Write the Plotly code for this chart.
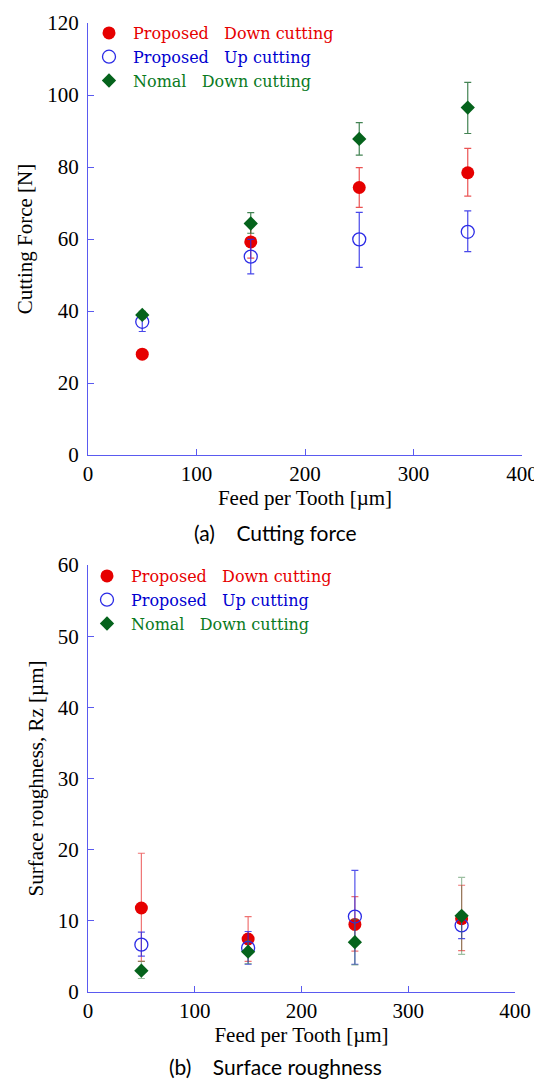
import plotly.graph_objects as go

feed = [50, 150, 250, 350]
x_ticks = [0, 100, 200, 300, 400]

# (a) Cutting force [N]
force_down = [28.0, 59.2, 74.3, 78.4]
force_down_ep = [0.8, 4.5, 5.5, 6.8]
force_down_em = [0.8, 4.5, 5.5, 6.5]
force_up = [37.0, 55.1, 59.9, 62.0]
force_up_ep = [2.5, 4.8, 7.5, 5.8]
force_up_em = [2.7, 4.8, 7.8, 5.5]
force_nomal = [38.9, 64.3, 87.8, 96.5]
force_nomal_ep = [1.0, 3.0, 4.5, 7.0]
force_nomal_em = [1.0, 2.7, 4.5, 7.2]

# (b) Surface roughness Rz [um]
rz_down = [11.8, 7.45, 9.5, 10.3]
rz_down_ep = [7.7, 3.15, 3.9, 4.7]
rz_down_em = [7.5, 3.15, 3.75, 4.5]
rz_up = [6.65, 6.2, 10.6, 9.35]
rz_up_ep = [1.75, 2.3, 6.5, 1.85]
rz_up_em = [1.6, 2.3, 6.7, 1.85]
rz_nomal = [3.0, 5.67, 7.0, 10.7]
rz_nomal_ep = [1.3, 1.6, 3.2, 5.4]
rz_nomal_em = [1.1, 1.67, 3.2, 5.4]

names = ["Proposed\u00a0\u00a0\u00a0Down cutting",
         "Proposed\u00a0\u00a0\u00a0Up cutting",
         "Nomal\u00a0\u00a0\u00a0Down cutting"]

RED = "#e60000"
BLUE = "#2b2be6"
GREEN = "#05631c"
TXT_RED = "#e60000"
TXT_BLUE = "#0000d0"
TXT_GREEN = "#0a7a1e"
AXC = "#5a5af0"
SERIF = "Liberation Serif"
LEGFONT = "DejaVu Serif"

fig = go.Figure()

def add_series(y, ep, em, color, txtcolor, name, symbol, size, xa, ya, legend, ebcolor, filled=True):
    marker = dict(symbol=symbol, size=size, color=color,
                  line=dict(color=color, width=1.3 if not filled else 0))
    fig.add_trace(go.Scatter(
        x=feed, y=y, mode="markers", xaxis=xa, yaxis=ya, legend=legend,
        name=f"<span style='color:{txtcolor}'>{name}</span>",
        marker=marker,
        error_y=dict(type="data", symmetric=False, array=ep, arrayminus=em,
                     color=ebcolor, thickness=1.2, width=3.5),
    ))

add_series(force_down, force_down_ep, force_down_em, RED, TXT_RED, names[0], "circle", 13, "x", "y", "legend", "rgba(230,40,40,0.8)")
add_series(force_up, force_up_ep, force_up_em, BLUE, TXT_BLUE, names[1], "circle-open", 13, "x", "y", "legend", "rgba(40,40,230,0.85)", filled=False)
add_series(force_nomal, force_nomal_ep, force_nomal_em, GREEN, TXT_GREEN, names[2], "diamond", 11, "x", "y", "legend", "rgba(20,100,40,0.8)")

add_series(rz_down, rz_down_ep, rz_down_em, RED, TXT_RED, names[0], "circle", 13, "x2", "y2", "legend2", "rgba(230,40,40,0.65)")
add_series(rz_up, rz_up_ep, rz_up_em, BLUE, TXT_BLUE, names[1], "circle-open", 13, "x2", "y2", "legend2", "rgba(40,40,230,0.8)", filled=False)
add_series(rz_nomal, rz_nomal_ep, rz_nomal_em, GREEN, TXT_GREEN, names[2], "diamond", 11, "x2", "y2", "legend2", "rgba(60,130,70,0.5)")

# page body adds an 8px margin; work in screen pixels and convert
OFF = 8
W, H = 542 - OFF, 1082 - OFF

def px(p):
    return (p - OFF) / W

def py(p):
    return 1 - (p - OFF) / H

def xd(a, b):
    return [px(a), px(b)]

def yd(top, bottom):
    return [py(bottom), py(top)]

axis_common = dict(showline=True, linecolor=AXC, linewidth=1, ticks="inside", ticklen=6,
                   tickcolor=AXC, tickwidth=1, showgrid=False, zeroline=False, automargin=False,
                   tickfont=dict(family=SERIF, size=21, color="black"), mirror=False)
tfont = dict(family=SERIF, size=21, color="black")

fig.update_layout(
    width=W, height=H, margin=dict(l=0, r=0, t=0, b=0, autoexpand=False),
    paper_bgcolor="white", plot_bgcolor="white",
    showlegend=True,
    xaxis=dict(domain=xd(88, 522), range=[0, 400], tickvals=x_ticks, anchor="y",
               title=dict(text="Feed per Tooth [µm]", font=tfont, standoff=2),
               **axis_common),
    yaxis=dict(domain=yd(23, 455), range=[0, 120], dtick=20, anchor="x",
               title=dict(text="Cutting Force [N]", font=tfont, standoff=8),
               ticklabelstandoff=4, **axis_common),
    xaxis2=dict(domain=xd(88, 515), range=[0, 400], tickvals=x_ticks, anchor="y2",
                title=dict(text="Feed per Tooth [µm]", font=tfont, standoff=2),
                **axis_common),
    yaxis2=dict(domain=yd(565, 992), range=[0, 60], dtick=10, anchor="x2",
                title=dict(text="Surface roughness, Rz [µm]", font=tfont, standoff=8),
                ticklabelstandoff=4, **axis_common),
    legend=dict(x=px(85), y=py(16), xanchor="left", yanchor="top",
                font=dict(family=LEGFONT, size=16), bgcolor="rgba(0,0,0,0)",
                tracegroupgap=0, itemwidth=38),
    legend2=dict(x=px(83), y=py(559), xanchor="left", yanchor="top",
                 font=dict(family=LEGFONT, size=16), bgcolor="rgba(0,0,0,0)",
                 tracegroupgap=0, itemwidth=38),
    annotations=[
        dict(text="(a)\u00a0\u00a0\u00a0\u00a0Cutting force", x=px(275), y=py(532), xref="paper", yref="paper",
             xanchor="center", yanchor="middle",
             showarrow=False, font=dict(family="Lato", size=21, color="black")),
        dict(text="(b)\u00a0\u00a0\u00a0\u00a0Surface roughness", x=px(275), y=py(1066), xref="paper", yref="paper",
             xanchor="center", yanchor="middle",
             showarrow=False, font=dict(family="Lato", size=21, color="black")),
    ],
)

fig.write_html("out.html")
